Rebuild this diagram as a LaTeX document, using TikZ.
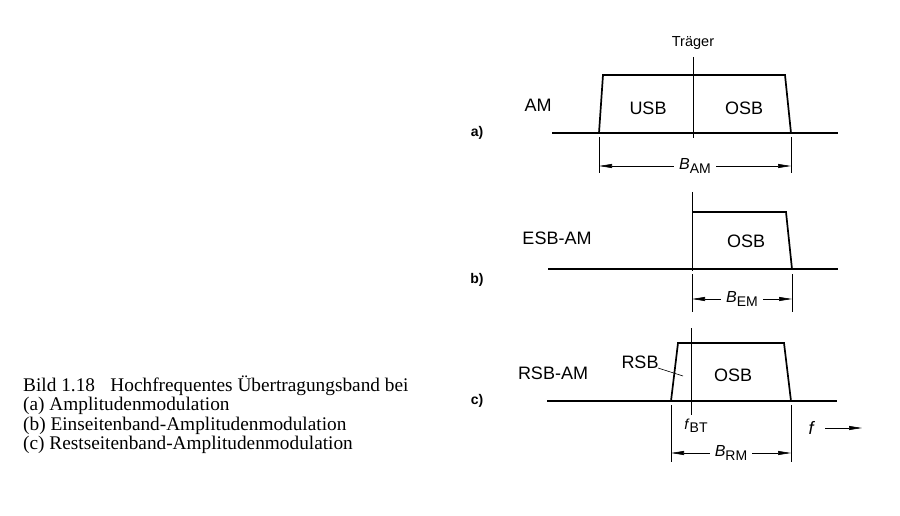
\documentclass[tikz,border=0pt]{standalone}
\usepackage{fontspec}
\setmainfont{Liberation Serif}
\newfontfamily\dinfont{Liberation Sans}
\usetikzlibrary{arrows.meta}

\tikzset{
  axis/.style={line width=1.1pt},
  band/.style={line width=1.7pt,line join=miter},
  carrier/.style={line width=1pt},
  dim/.style={line width=0.6pt},
  tip/.style={-{Triangle[length=13pt,width=4pt]}},
  dimarrow/.style={dim,{Triangle[length=13pt,width=4pt]}-{Triangle[length=13pt,width=4pt]}},
  lbl/.style={font=\dinfont\fontsize{18}{18}\selectfont,inner sep=0pt},
  small/.style={font=\dinfont\fontsize{14.5}{14.5}\selectfont,inner sep=0pt},
  part/.style={font=\dinfont\bfseries\fontsize{14}{14}\selectfont,inner sep=0pt},
  dimlbl/.style={font=\dinfont\fontsize{16}{16}\selectfont,fill=white,inner sep=5pt},
  caption/.style={font=\fontsize{19.3}{19.3}\selectfont,anchor=base west,inner sep=0pt}
}
\newcommand{\bsub}[2]{\textit{#1}\raisebox{-0.4ex}{\fontsize{14}{14}\selectfont #2}}

\begin{document}
\begin{tikzpicture}[x=1pt,y=-1pt]
\useasboundingbox[fill=white] (0,0) rectangle (900,516);
%
% a) AM
\coordinate (a0) at (552,133); \coordinate (a1) at (838,133);
\draw[axis] (a0) -- (a1);
\draw[band] (599,133) -- (603,75) -- (785,75) -- (791,133);
\coordinate (ta) at (693,57); \coordinate (tb) at (693,138);
\draw[carrier] (ta) -- (tb);
\node[small] (traeger) at (693,43) {Träger};
\node[lbl] (am) at (538,105) {AM};
\node[lbl] (usb) at (648,108) {USB};
\node[lbl] (osba) at (744,108) {OSB};
\node[part] (pa) at (477,133) {a)};
\coordinate (la0) at (599,137); \coordinate (la1) at (599,173);
\coordinate (ra0) at (791,137); \coordinate (ra1) at (791,173);
\draw[dim] (la0) -- (la1) (ra0) -- (ra1);
\draw[dimarrow] (599,166) -- node[dimlbl] (bam) {\bsub{B}{AM}} (791,166);
%
% b) ESB-AM
\coordinate (b0) at (548,269); \coordinate (b1) at (838,269);
\draw[axis] (b0) -- (b1);
\draw[band] (692,212) -- (786,212) -- (792,269);
\coordinate (tc) at (692,192); \coordinate (td) at (692,271);
\draw[carrier] (tc) -- (td);
\node[lbl] (esb) at (557,238) {ESB-AM};
\node[lbl] (osbb) at (746,241) {OSB};
\node[part] (pb) at (477,280) {b)};
\coordinate (lb0) at (692,274); \coordinate (lb1) at (692,312);
\coordinate (rb0) at (792,274); \coordinate (rb1) at (792,312);
\draw[dim] (lb0) -- (lb1) (rb0) -- (rb1);
\draw[dimarrow] (692,299) -- node[dimlbl] (bem) {\bsub{B}{EM}} (792,299);
%
% c) RSB-AM
\coordinate (c0) at (547,401); \coordinate (c1) at (837,401);
\draw[axis] (c0) -- (c1);
\draw[band] (671,401) -- (678,343) -- (784,343) -- (791,401);
\coordinate (te) at (691,328); \coordinate (tf) at (691,415);
\draw[carrier] (te) -- (tf);
\node[lbl] (rsbam) at (553,373) {RSB-AM};
\node[lbl] (rsb) at (640,362) {RSB};
\coordinate (rsbstart) at (658,368); \coordinate (rsbend) at (683,376);
\draw[dim] (rsbstart) -- (rsbend);
\node[lbl] (osbc) at (733,375) {OSB};
\node[part] (pc) at (477,401) {c)};
\node[small] (fbt) at (696,426) {\bsub{f}{BT}};
\node[lbl] (f) at (812,428) {\textit{f}};
\coordinate (fa) at (825,428); \coordinate (fb) at (862,428);
\draw[dim,tip] (fa) -- (fb);
\coordinate (lc0) at (671,405); \coordinate (lc1) at (671,462);
\coordinate (rc0) at (791,405); \coordinate (rc1) at (791,462);
\draw[dim] (lc0) -- (lc1) (rc0) -- (rc1);
\draw[dimarrow] (671,453) -- node[dimlbl] (brm) {\bsub{B}{RM}} (791,453);
%
% Bildunterschrift
\node[caption] (cap1) at (23,391) {Bild 1.18\hspace{0.8em}Hochfrequentes Übertragungsband bei};
\node[caption] (cap2) at (23,410) {(a) Amplitudenmodulation};
\node[caption] (cap3) at (23,430) {(b) Einseitenband-Amplitudenmodulation};
\node[caption] (cap4) at (23,449) {(c) Restseitenband-Amplitudenmodulation};
\end{tikzpicture}
\end{document}
